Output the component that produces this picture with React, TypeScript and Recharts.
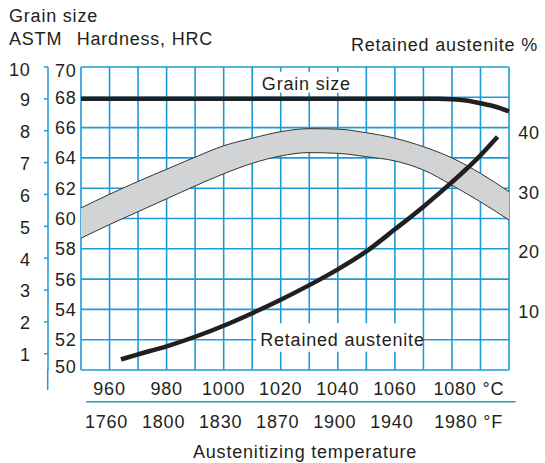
import React from "react";
import {
  ComposedChart,
  Area,
  Line,
  XAxis,
  YAxis,
  CartesianGrid,
  ReferenceArea,
} from "recharts";

// axis ticks and labels
const TEMP_TICKS = [950, 960, 970, 980, 990, 1000, 1010, 1020, 1030, 1040, 1050, 1060, 1070, 1080, 1090, 1100];
const C_LABELS = [960, 980, 1000, 1020, 1040, 1060, 1080];
const F_LABELS = ["1760", "1800", "1830", "1870", "1900", "1940", "1980"];
const HRC_TICKS = [50, 52, 54, 56, 58, 60, 62, 64, 66, 68, 70];
const GRAIN_TICKS = [1, 2, 3, 4, 5, 6, 7, 8, 9, 10];
const RA_TICKS = [10, 20, 30, 40];

// hardness band (HRC)
const hardTemps = [950, 960, 970, 980, 990, 1000, 1010, 1020, 1030, 1040, 1050, 1060, 1070, 1080, 1090, 1100];
const hrcHigh = [60.7, 61.6, 62.45, 63.25, 64.05, 64.8, 65.3, 65.73, 65.93, 65.9, 65.66, 65.3, 64.74, 64.0, 62.98, 61.77];
const hrcLow = [58.7, 59.6, 60.45, 61.3, 62.15, 62.95, 63.64, 64.13, 64.35, 64.3, 64.08, 63.8, 63.2, 62.2, 61.1, 59.9];

// grain size (ASTM)
const grainTemps = [950, 1000, 1050, 1075, 1080, 1085, 1090, 1095, 1100];
const grainSize = [9, 9, 9, 9, 8.99, 8.95, 8.86, 8.76, 8.61];

// retained austenite (%)
const austTemps = [964, 970, 980, 990, 1000, 1010, 1020, 1030, 1040, 1050, 1060, 1070, 1080, 1090, 1096];
const austPct = [2.0, 2.85, 4.2, 5.8, 7.65, 9.75, 12.0, 14.45, 17.1, 20.1, 23.8, 27.6, 31.7, 36.2, 39.3];

const band = hardTemps.map((t, i) => ({ t, hrc: [hrcLow[i], hrcHigh[i]] }));
const grain = grainTemps.map((t, i) => ({ t, g: grainSize[i] }));
const aust = austTemps.map((t, i) => ({ t, ra: austPct[i] }));

const INK = "#231f20";
const GRID = "#1e9bd7";
const FONT = "'Liberation Sans', Arial, Helvetica, sans-serif";
const TXT = { fontFamily: FONT, fontSize: 18, letterSpacing: 0.8, fill: INK };

// celsius row, separator rule and fahrenheit row share one axis
function TempTick({ x, y, payload, index }: any) {
  const v = payload.value;
  const i = C_LABELS.indexOf(v);
  const last = i === C_LABELS.length - 1;
  return (
    <g>
      {index === 0 && (
        <line x1={x + 5} y1={y + 31.7} x2={x + 434.7} y2={y + 31.7} stroke={GRID} strokeWidth={1.5} />
      )}
      {i >= 0 &&
        (last ? (
          <text x={x - 18.5} y={y + 24.5} {...TXT}>{v} °C</text>
        ) : (
          <text x={x} y={y + 24.5} textAnchor="middle" {...TXT}>{v}</text>
        ))}
      {i >= 0 &&
        (last ? (
          <text x={x - 17.7} y={y + 57.5} {...TXT}>{F_LABELS[i]} °F</text>
        ) : (
          <text x={x - 3} y={y + 57.5} textAnchor="middle" {...TXT}>{F_LABELS[i]}</text>
        ))}
    </g>
  );
}

function HrcTick({ x, y, payload }: any) {
  const v = payload.value;
  const dy = v === 70 ? 3.5 : v === 50 ? -3.7 : 0;
  return <text x={x - 4.3} y={y + 6.4 + dy} textAnchor="end" {...TXT}>{v}</text>;
}

function GrainTick({ x, y, payload }: any) {
  const v = payload.value;
  const dy = v === 10 ? 3 : 1;
  return <text x={x - 13.3} y={y + 6.4 + dy} textAnchor="end" {...TXT}>{v}</text>;
}

function RaTick({ x, y, payload }: any) {
  return <text x={x + 9.3} y={y + 6.4} {...TXT}>{payload.value}</text>;
}

const boxLabel = (text: string, dx: number, dy: number) => (p: any) => {
  const vb = p.viewBox || {};
  return <text x={vb.x + dx} y={vb.y + dy} {...TXT}>{text}</text>;
};

export default function App() {
  return (
    <div style={{ position: "absolute", left: 0, top: 0, width: 545, height: 463, background: "#fff" }}>
      <ComposedChart width={545} height={463} margin={{ top: 67, right: 0, bottom: 0, left: 0 }}>
        <XAxis
          xAxisId="c"
          type="number"
          dataKey="t"
          domain={[950, 1100]}
          ticks={TEMP_TICKS}
          interval={0}
          height={93}
          axisLine={false}
          tickLine={false}
          tickSize={0}
          tickMargin={0}
          tick={<TempTick />}
        />
        <YAxis
          yAxisId="hardness"
          type="number"
          domain={[50, 70]}
          ticks={HRC_TICKS}
          interval={0}
          width={33}
          axisLine={false}
          tickLine={false}
          tickSize={0}
          tickMargin={0}
          tick={<HrcTick />}
        />
        <YAxis
          yAxisId="size"
          type="number"
          domain={[0.49, 10]}
          ticks={GRAIN_TICKS}
          interval={0}
          width={48}
          axisLine={{ stroke: GRID, strokeWidth: 1.5 }}
          tickLine={{ stroke: GRID, strokeWidth: 1.5 }}
          tickSize={4}
          tickMargin={0}
          tick={<GrainTick />}
        />
        <YAxis
          yAxisId="ra"
          orientation="right"
          type="number"
          domain={[0.23, 51]}
          ticks={RA_TICKS}
          interval={0}
          width={36}
          axisLine={false}
          tickLine={false}
          tickSize={0}
          tickMargin={0}
          tick={<RaTick />}
        />
        <CartesianGrid xAxisId="c" yAxisId="hardness" stroke={GRID} strokeWidth={1.6} />
        <ReferenceArea
          xAxisId="c"
          yAxisId="hardness"
          x1={1011}
          x2={1044.7}
          y1={68.3}
          y2={69.69}
          fill="#fff"
          fillOpacity={1}
          stroke="none"
          label={boxLabel("Grain size", 6.8, 18.3)}
        />
        <ReferenceArea
          xAxisId="c"
          yAxisId="hardness"
          x1={1011.4}
          x2={1069.6}
          y1={51.21}
          y2={53.08}
          fill="#fff"
          fillOpacity={1}
          stroke="none"
          label={boxLabel("Retained austenite", 4, 22.7)}
        />
        <Area
          xAxisId="c"
          yAxisId="hardness"
          data={band}
          dataKey="hrc"
          type="monotone"
          fill="#d1d3d4"
          fillOpacity={1}
          stroke="#333"
          strokeWidth={1}
          dot={false}
          activeDot={false}
          isAnimationActive={false}
        />
        <Line
          xAxisId="c"
          yAxisId="size"
          data={grain}
          dataKey="g"
          type="monotone"
          stroke={INK}
          strokeWidth={4.5}
          dot={false}
          activeDot={false}
          isAnimationActive={false}
        />
        <Line
          xAxisId="c"
          yAxisId="ra"
          data={aust}
          dataKey="ra"
          type="monotone"
          stroke={INK}
          strokeWidth={4.5}
          dot={false}
          activeDot={false}
          isAnimationActive={false}
        />
      </ComposedChart>
      <svg width={545} height={463} style={{ position: "absolute", left: 0, top: 0, pointerEvents: "none" }}>
        <line x1={47.7} y1={369} x2={47.7} y2={390} stroke={GRID} strokeWidth={1.5} />
        <text x={9} y={21.5} {...TXT}>Grain size</text>
        <text x={9} y={45} {...TXT}>ASTM</text>
        <text x={76.7} y={44.5} {...TXT}>Hardness, HRC</text>
        <text x={538} y={51} textAnchor="end" {...TXT}>Retained austenite %</text>
        <text x={193} y={458} {...TXT}>Austenitizing temperature</text>
      </svg>
    </div>
  );
}
